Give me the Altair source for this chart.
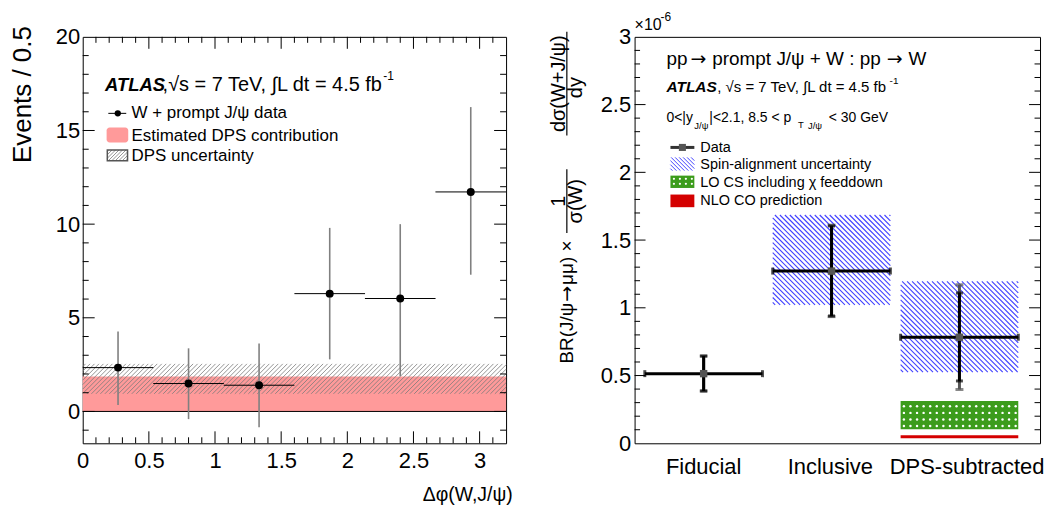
import altair as alt
import pandas as pd

FONT = "Liberation Sans"
ARROW_FONT = "DejaVu Sans"

# ---------------- data: left panel (events vs delta phi) ----------------
dphi_center = [0.267, 0.800, 1.333, 1.867, 2.400, 2.933]
dphi_half = [0.267, 0.267, 0.267, 0.267, 0.267, 0.267]
events = [2.34, 1.49, 1.40, 6.29, 6.03, 11.72]
events_hi = [4.27, 3.37, 3.63, 9.80, 10.00, 16.25]
events_lo = [0.34, -0.41, -0.85, 2.78, 1.89, 7.30]
dps_estimate = 1.86
dps_band = [0.94, 2.54]
dphi_range = [0.0, 3.2]
events_range = [-1.7, 20.0]
left_x_ticks = [0, 0.5, 1, 1.5, 2, 2.5, 3]
left_y_ticks = [0, 5, 10, 15, 20]

# ---------------- data: right panel (ratio, units of 1e-6) ----------------
categories = ["Fiducial", "Inclusive", "DPS-subtracted"]
cat_center = [0.5, 1.5, 2.5]
cat_half = 0.46
ratio = [0.514, 1.271, 0.783]
stat_lo = [0.386, 0.940, 0.460]
stat_hi = [0.644, 1.604, 1.109]
tot_lo = [0.386, 0.935, 0.397]
tot_hi = [0.644, 1.610, 1.170]
spin_center = [1.5, 2.5]
spin_lo = [1.021, 0.526]
spin_hi = [1.685, 1.195]
lo_cs_center = 2.5
lo_cs = [0.103, 0.313]
nlo_co_center = 2.5
nlo_co = 0.048
right_x_range = [-0.04, 3.13]
right_y_range = [0.0, 3.0]
right_y_ticks = [0, 0.5, 1, 1.5, 2, 2.5, 3]
cat_label_x = [0.5, 1.49, 2.56]

# ---------------- layout ----------------
WL, HL = 425, 408
WR, HR = 407, 408
kxL = WL / (dphi_range[1] - dphi_range[0])
kyL = HL / (events_range[1] - events_range[0])
kxR = WR / (right_x_range[1] - right_x_range[0])
kyR = HR / (right_y_range[1] - right_y_range[0])


def hatch(x0, x1, y0, y1, kx, ky, step, slope):
    X0, X1, Y0, Y1 = x0 * kx, x1 * kx, y0 * ky, y1 * ky
    out = []
    if slope > 0:
        c, cmax = Y0 - X1 + step / 2, Y1 - X0
    else:
        c, cmax = Y0 + X0 + step / 2, Y1 + X1
    while c < cmax:
        if slope > 0:
            xa, xb = max(X0, Y0 - c), min(X1, Y1 - c)
            ya, yb = xa + c, xb + c
        else:
            xa, xb = max(X0, c - Y1), min(X1, c - Y0)
            ya, yb = c - xa, c - xb
        if xb > xa:
            out.append({"x": xa / kx, "y": ya / ky, "x2": xb / kx, "y2": yb / ky})
        c += step
    return out


def hatch_px(x0, x1, y0, y1, step, slope):
    segs = hatch(x0, x1, -y1, -y0, 1, 1, step, slope)
    return [{"x": s["x"], "y": -s["y"], "x2": s["x2"], "y2": -s["y2"]} for s in segs]


def dots(x0, x1, y0, y1, kx, ky, step):
    pts = []
    X = x0 * kx + step / 2
    while X < x1 * kx:
        Y = y0 * ky + step / 2
        while Y < y1 * ky:
            pts.append({"x": X / kx, "y": Y / ky})
            Y += step
        X += step
    return pts


def QX(field, scale, **kw):
    return alt.X(field, type="quantitative", scale=scale, title=None, **kw)


def QY(field, scale, **kw):
    return alt.Y(field, type="quantitative", scale=scale, title=None, **kw)


def txt(x, y, s, size, align="left", baseline="alphabetic", angle=0, weight="normal", style="normal",
        font=FONT):
    return alt.Chart(alt.Data(values=[{}])).mark_text(
        text=s, fontSize=size, align=align, baseline=baseline, angle=angle,
        fontWeight=weight, fontStyle=style, color="black", font=font
    ).encode(x=alt.value(x), y=alt.value(y))


def vrect(x0, x1, y0, y1, **kw):
    return alt.Chart(alt.Data(values=[{}])).mark_rect(**kw).encode(
        x=alt.value(x0), x2=alt.value(x1), y=alt.value(y0), y2=alt.value(y1))


def vrule(x0, x1, y0, y1, **kw):
    return alt.Chart(alt.Data(values=[{}])).mark_rule(**kw).encode(
        x=alt.value(x0), x2=alt.value(x1), y=alt.value(y0), y2=alt.value(y1))


def px_segments(segs, color, width):
    return alt.Chart(pd.DataFrame(segs)).mark_rule(color=color, strokeWidth=width).encode(
        x=alt.X("x:Q", scale=None), y=alt.Y("y:Q", scale=None), x2="x2:Q", y2="y2:Q")


def yticks(vals, scale, length, W):
    df = pd.DataFrame({"v": vals})
    base = alt.Chart(df).mark_rule(color="black", strokeWidth=1)
    a = base.encode(y=QY("v", scale), x=alt.value(0), x2=alt.value(length))
    b = base.encode(y=QY("v", scale), x=alt.value(W - length), x2=alt.value(W))
    return [a, b]


def xticks(vals, scale, length, H):
    df = pd.DataFrame({"v": vals})
    base = alt.Chart(df).mark_rule(color="black", strokeWidth=1)
    return [base.encode(x=QX("v", scale), y=alt.value(H - length), y2=alt.value(H)),
            base.encode(x=QX("v", scale), y=alt.value(0), y2=alt.value(length))]


# ======================= LEFT PANEL =======================
xL = alt.Scale(domain=dphi_range, nice=False, zero=False)
yL = alt.Scale(domain=events_range, nice=False, zero=False)
axLx = alt.Axis(values=left_x_ticks, format="~g", labelPadding=7, labelFontSize=22)
axLy = alt.Axis(values=left_y_ticks, format="d", labelPadding=3, labelFontSize=22)

band_df = pd.DataFrame({"x0": [dphi_range[0]], "x1": [dphi_range[1]], "y0": [0.0], "y1": [dps_estimate]})
red_band = alt.Chart(band_df).mark_rect(color="#ff9a9a").encode(
    x=QX("x0", xL, axis=axLx), x2="x1:Q", y=QY("y0", yL, axis=axLy), y2="y1:Q")

hatch_df = pd.DataFrame(hatch(dphi_range[0], dphi_range[1], dps_band[0], dps_band[1], kxL, kyL, 4.5, 1))
hatch_band = alt.Chart(hatch_df).mark_rule(color="#7a7a7a", strokeWidth=0.8).encode(
    x=QX("x", xL), y=QY("y", yL), x2="x2:Q", y2="y2:Q")

zero_df = pd.DataFrame({"x0": [dphi_range[0]], "x1": [dphi_range[1]], "y": [0.0]})
zero_line = alt.Chart(zero_df).mark_rule(color="black", strokeWidth=1).encode(
    x=QX("x0", xL), x2="x1:Q", y=QY("y", yL))

ev_df = pd.DataFrame({"c": dphi_center, "lo": [c - h for c, h in zip(dphi_center, dphi_half)],
                      "hi": [c + h for c, h in zip(dphi_center, dphi_half)],
                      "v": events, "elo": events_lo, "ehi": events_hi})
ev_v = alt.Chart(ev_df).mark_rule(color="#808080", strokeWidth=1.6).encode(
    x=QX("c", xL), y=QY("elo", yL), y2="ehi:Q")
ev_h = alt.Chart(ev_df).mark_rule(color="black", strokeWidth=1).encode(
    x=QX("lo", xL), x2="hi:Q", y=QY("v", yL))
ev_p = alt.Chart(ev_df).mark_circle(color="black", opacity=1, size=64).encode(
    x=QX("c", xL), y=QY("v", yL))

lx_minor = [round(i * 0.1, 1) for i in range(1, 32) if i % 5 != 0]
lx_major = [0.5, 1, 1.5, 2, 2.5, 3]
ly_minor = [i for i in range(-1, 20) if i % 5 != 0]
ly_major = [0, 5, 10, 15]
left_ticks = (xticks(lx_minor, xL, 6, HL) + xticks(lx_major, xL, 12, HL)
              + yticks(ly_minor, yL, 6, WL) + yticks(ly_major, yL, 12, WL))

OLx, OLy = 79.3, 35.7
left_leg = [
    txt(101.7 - OLx, 90 - OLy, "ATLAS", 18.5, weight="bold", style="italic"),
    txt(159.5 - OLx, 90 - OLy, ",\u221as = 7 TeV, \u222bL dt = 4.5 fb", 20),
    txt(381 - OLx, 79 - OLy, "-1", 12),
    vrule(105 - OLx, 123 - OLx, 112.5 - OLy, 112.5 - OLy, color="black", strokeWidth=1),
    alt.Chart(alt.Data(values=[{}])).mark_circle(color="black", opacity=1, size=40).encode(
        x=alt.value(114.5 - OLx), y=alt.value(112.5 - OLy)),
    txt(128.3 - OLx, 116.7 - OLy, "W + prompt J/\u03c8 data", 17),
    vrect(103.3 - OLx, 125 - OLx, 126.7 - OLy, 141.7 - OLy, color="#ff9a9a", cornerRadius=3),
    txt(128.3 - OLx, 140.7 - OLy, "Estimated DPS contribution", 17),
    px_segments(hatch_px(104 - OLx, 124.3 - OLx, 149.3 - OLy, 160 - OLy, 3.5, 1), "#7a7a7a", 0.8),
    vrect(104 - OLx, 124.3 - OLx, 149.3 - OLy, 160 - OLy, fill="transparent", stroke="#555555", strokeWidth=1.5),
    txt(128.3 - OLx, 160 - OLy, "DPS uncertainty", 17),
    txt(511 - OLx, 502 - OLy, "\u0394\u03c6(W,J/\u03c8)", 19.5, align="right"),
    txt(19 - OLx, 25 - OLy, "Events / 0.5", 26, align="right", baseline="middle", angle=270),
]

left = alt.layer(red_band, hatch_band, zero_line, ev_v, ev_h, ev_p, *left_ticks, *left_leg).properties(
    width=WL, height=HL)

# ======================= RIGHT PANEL =======================
xR = alt.Scale(domain=right_x_range, nice=False, zero=False)
yR = alt.Scale(domain=right_y_range, nice=False, zero=False)
axRy = alt.Axis(values=right_y_ticks, format="~g", labelPadding=4, labelFontSize=22)

spin_segs = []
for c, lo, hi in zip(spin_center, spin_lo, spin_hi):
    spin_segs += hatch(c - cat_half, c + cat_half, lo, hi, kxR, kyR, 5, -1)
spin_df = pd.DataFrame(spin_segs)
spin_layer = alt.Chart(spin_df).mark_rule(color="#4040ff", strokeWidth=1.1).encode(
    x=QX("x", xR, axis=None), y=QY("y", yR, axis=axRy), x2="x2:Q", y2="y2:Q")

lo_df = pd.DataFrame({"x0": [lo_cs_center - cat_half], "x1": [lo_cs_center + cat_half],
                      "y0": [lo_cs[0]], "y1": [lo_cs[1]]})
lo_box = alt.Chart(lo_df).mark_rect(color="#3c9c1c").encode(
    x=QX("x0", xR), x2="x1:Q", y=QY("y0", yR), y2="y1:Q")
lo_dots = alt.Chart(pd.DataFrame(dots(lo_cs_center - cat_half, lo_cs_center + cat_half, lo_cs[0], lo_cs[1],
                                      kxR, kyR, 6.6))).mark_circle(color="white", opacity=1, size=6).encode(
    x=QX("x", xR), y=QY("y", yR))

nlo_df = pd.DataFrame({"x0": [nlo_co_center - cat_half], "x1": [nlo_co_center + cat_half], "y": [nlo_co]})
nlo_line = alt.Chart(nlo_df).mark_rule(color="#d40000", strokeWidth=3).encode(
    x=QX("x0", xR), x2="x1:Q", y=QY("y", yR))

r_df = pd.DataFrame({"cat": categories, "c": cat_center,
                     "lo": [c - cat_half for c in cat_center], "hi": [c + cat_half for c in cat_center],
                     "v": ratio, "slo": stat_lo, "shi": stat_hi, "tlo": tot_lo, "thi": tot_hi})
tot_bar = alt.Chart(r_df).mark_rule(color="#555555", strokeWidth=3).encode(
    x=QX("c", xR), y=QY("tlo", yR), y2="thi:Q")
tot_cap_lo = alt.Chart(r_df).mark_tick(color="#555555", orient="horizontal", size=8, thickness=3).encode(
    x=QX("c", xR), y=QY("tlo", yR))
tot_cap_hi = alt.Chart(r_df).mark_tick(color="#555555", orient="horizontal", size=8, thickness=3).encode(
    x=QX("c", xR), y=QY("thi", yR))
stat_bar = alt.Chart(r_df).mark_rule(color="black", strokeWidth=3).encode(
    x=QX("c", xR), y=QY("slo", yR), y2="shi:Q")
stat_cap_lo = alt.Chart(r_df).mark_tick(color="black", orient="horizontal", size=7, thickness=3).encode(
    x=QX("c", xR), y=QY("slo", yR))
stat_cap_hi = alt.Chart(r_df).mark_tick(color="black", orient="horizontal", size=7, thickness=3).encode(
    x=QX("c", xR), y=QY("shi", yR))
h_bar = alt.Chart(r_df).mark_rule(color="black", strokeWidth=3).encode(
    x=QX("lo", xR), x2="hi:Q", y=QY("v", yR))
h_cap_lo = alt.Chart(r_df).mark_tick(color="black", orient="vertical", size=7, thickness=3).encode(
    x=QX("lo", xR), y=QY("v", yR))
h_cap_hi = alt.Chart(r_df).mark_tick(color="black", orient="vertical", size=7, thickness=3).encode(
    x=QX("hi", xR), y=QY("v", yR))
marker = alt.Chart(r_df).mark_square(color="#555555", opacity=1, size=55).encode(
    x=QX("c", xR), y=QY("v", yR))

cat_df = pd.DataFrame({"cat": categories, "lx": cat_label_x})
cat_labels = alt.Chart(cat_df).mark_text(fontSize=22, font=FONT, align="center", baseline="alphabetic",
                                         color="black").encode(
    x=QX("lx", xR), y=alt.value(439), text="cat:N")

ry_minor = [round(i * 0.1, 1) for i in range(1, 30) if i % 5 != 0]
ry_major = [0.5, 1, 1.5, 2, 2.5]
right_ticks = yticks(ry_minor, yR, 5.5, WR) + yticks(ry_major, yR, 11, WR)

ORx, ORy = 633.0, 35.0
right_leg = [
    txt(665 - ORx, 63.3 - ORy, "pp", 19),
    txt(697 - ORx, 57 - ORy, "\u2192", 19, align="center", baseline="middle", font=ARROW_FONT),
    txt(711 - ORx, 63.3 - ORy, "prompt J/\u03c8 + W : pp", 19),
    txt(894 - ORx, 57 - ORy, "\u2192", 19, align="center", baseline="middle", font=ARROW_FONT),
    txt(908 - ORx, 63.3 - ORy, "W", 19),
    txt(665 - ORx, 90 - ORy, "ATLAS", 15.5, weight="bold", style="italic"),
    txt(716 - ORx, 90 - ORy, ", \u221as = 7 TeV, \u222bL dt = 4.5 fb", 15),
    txt(889 - ORx, 82 - ORy, "-1", 10),
    txt(665 - ORx, 120.7 - ORy, "0<|y", 14),
    txt(693 - ORx, 128 - ORy, "J/\u03c8", 9.5),
    txt(708 - ORx, 120.7 - ORy, "|<2.1, 8.5 < p", 14),
    txt(797 - ORx, 127 - ORy, "T", 9.5),
    txt(807 - ORx, 128 - ORy, "J/\u03c8", 9.5),
    txt(828 - ORx, 120.7 - ORy, "< 30 GeV", 14),
    vrule(669 - ORx, 693 - ORx, 146 - ORy, 146 - ORy, color="#333333", strokeWidth=3),
    alt.Chart(alt.Data(values=[{}])).mark_square(color="#555555", opacity=1, size=50).encode(
        x=alt.value(681 - ORx), y=alt.value(146 - ORy)),
    txt(699 - ORx, 150.7 - ORy, "Data", 14.5),
    px_segments(hatch_px(669 - ORx, 693 - ORx, 156 - ORy, 169.3 - ORy, 4, -1), "#4040ff", 1),
    txt(699 - ORx, 167.3 - ORy, "Spin-alignment uncertainty", 14.5),
    vrect(669 - ORx, 693 - ORx, 174.3 - ORy, 186.7 - ORy, color="#3c9c1c"),
    alt.Chart(pd.DataFrame([{"x": xx + 0.5, "y": yy + 0.5}
                            for xx in range(int(669 - ORx) + 3, int(693 - ORx), 6)
                            for yy in range(int(174.3 - ORy) + 3, int(186.7 - ORy), 5)])).mark_circle(
        color="white", opacity=1, size=5).encode(x=alt.X("x:Q", scale=None), y=alt.Y("y:Q", scale=None)),
    txt(699 - ORx, 186 - ORy, "LO CS including \u03c7 feeddown", 14.5),
    vrect(669 - ORx, 693 - ORx, 193.3 - ORy, 206 - ORy, color="#d40000"),
    txt(699 - ORx, 204 - ORy, "NLO CO prediction", 14.5),
    # exponent
    txt(0, -6.7, "\u00d710", 16),
    txt(26, -16, "-6", 12),
    # y-axis title
    txt(565 - ORx, 363 - ORy, "BR(J/\u03c8", 19, baseline="middle", angle=270),
    txt(565 - ORx, 293 - ORy, "\u2192", 19, align="center", baseline="middle", angle=270, font=ARROW_FONT),
    txt(565 - ORx, 284 - ORy, "\u03bc\u03bc) \u00d7", 19, baseline="middle", angle=270),
    txt(557 - ORx, 200 - ORy, "1", 20, align="center", baseline="middle", angle=270),
    vrule(565 - ORx, 565 - ORx, 168 - ORy, 232 - ORy, color="black", strokeWidth=1.2),
    txt(574 - ORx, 200 - ORy, "\u03c3(W)", 20, align="center", baseline="middle", angle=270),
    txt(557 - ORx, 82 - ORy, "d\u03c3(W+J/\u03c8)", 20, align="center", baseline="middle", angle=270),
    vrule(565 - ORx, 565 - ORx, 30 - ORy, 134 - ORy, color="black", strokeWidth=1.2),
    txt(574 - ORx, 86 - ORy, "dy", 20, align="center", baseline="middle", angle=270),
]

right = alt.layer(spin_layer, lo_box, lo_dots, nlo_line, tot_bar, tot_cap_lo, tot_cap_hi,
                  stat_bar, stat_cap_lo, stat_cap_hi, h_bar, h_cap_lo, h_cap_hi, marker,
                  cat_labels, *right_ticks, *right_leg).properties(width=WR, height=HR)

chart = alt.hconcat(left, right, spacing=129, bounds="flush").properties(
    padding={"left": 1, "top": 1, "right": 0, "bottom": 0}
).configure(
    font=FONT,
    view=alt.ViewConfig(stroke="black", strokeWidth=1),
    axis=alt.AxisConfig(grid=False, ticks=False, domain=False, labelFont=FONT, labelFontSize=22,
                        labelColor="black", labelFlush=False, labelOverlap=False),
)

chart.save("out.html", embed_options={"renderer": "svg", "actions": False})
